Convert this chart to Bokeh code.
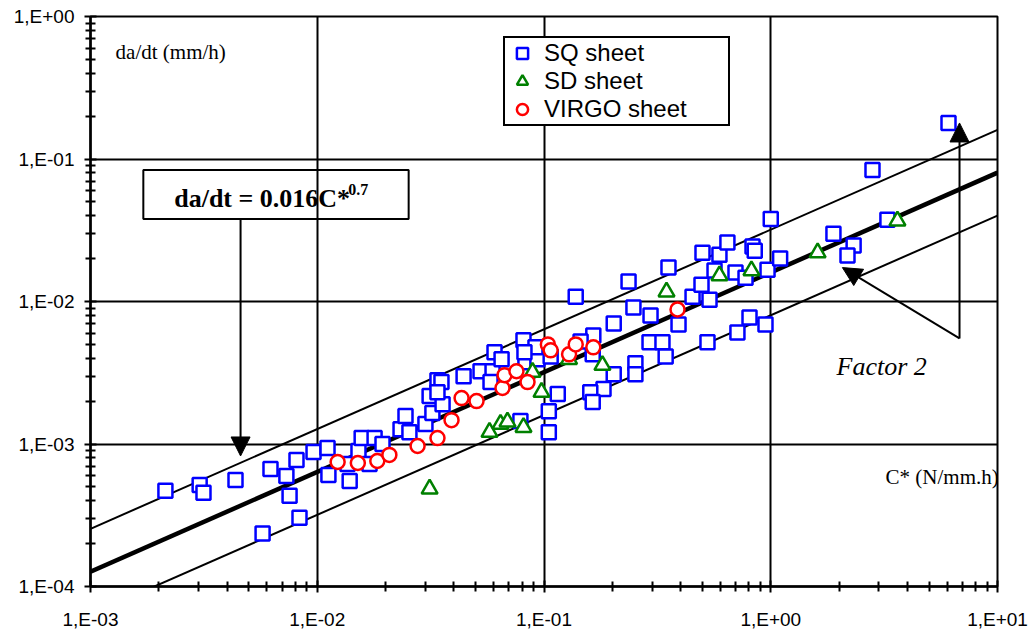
from bokeh.plotting import figure
from bokeh.models import (Range1d, Legend, LegendItem, Label, Arrow, NormalHead,
                          CustomJSTickFormatter, BoxAnnotation, FixedTicker)
from bokeh.embed import file_html
from bokeh.resources import INLINE

# ---------------- data ----------------
sq_x = [2.14e-3, 3.03e-3, 3.15e-3, 4.36e-3, 5.74e-3, 6.22e-3, 7.31e-3, 7.55e-3, 8.10e-3, 8.35e-3,
        9.63e-3, 1.11e-2, 1.12e-2, 1.36e-2, 1.39e-2, 1.52e-2, 1.57e-2, 1.79e-2, 1.70e-2, 1.94e-2,
        2.33e-2, 2.45e-2, 2.55e-2, 3.00e-2, 3.13e-2, 3.22e-2, 3.39e-2, 3.53e-2, 3.57e-2, 3.39e-2,
        4.42e-2, 5.25e-2, 5.93e-2, 5.81e-2, 6.05e-2, 6.50e-2, 8.12e-2, 8.28e-2, 9.35e-2, 9.17e-2,
        7.87e-2, 0.105, 0.105, 0.107, 0.115, 0.138, 0.165, 0.164, 0.203, 0.236,
        0.248, 0.295, 0.292, 0.333, 0.344, 0.253, 0.253, 0.203, 0.183, 0.160,
        0.164, 0.354, 0.392, 0.452, 0.495, 0.537, 0.500, 0.594, 0.644, 0.565,
        0.699, 0.774, 0.831, 0.85, 0.968, 1.00, 1.10, 0.526, 0.713, 0.806,
        0.948, 1.89, 2.32, 2.18, 3.27, 2.81, 6.08, 8.20e-2, 0.145]
sq_y = [4.69e-4, 5.16e-4, 4.54e-4, 5.60e-4, 2.35e-4, 6.68e-4, 5.97e-4, 4.33e-4, 7.73e-4, 3.04e-4,
        8.79e-4, 9.38e-4, 6.07e-4, 7.24e-4, 5.51e-4, 8.93e-4, 1.10e-3, 1.10e-3, 7.24e-4, 1.00e-3,
        1.27e-3, 1.57e-3, 1.21e-3, 1.38e-3, 2.17e-3, 1.65e-3, 2.80e-3, 2.72e-3, 1.90e-3, 2.31e-3,
        2.99e-3, 3.24e-3, 3.24e-3, 2.72e-3, 4.40e-3, 3.93e-3, 5.34e-3, 3.74e-3, 3.93e-3, 4.77e-3,
        1.45e-3, 1.70e-3, 1.21e-3, 4.12e-3, 2.24e-3, 1.08e-2, 5.78e-3, 4.26e-3, 7.02e-3, 1.38e-2,
        9.08e-3, 7.98e-3, 5.17e-3, 5.17e-3, 4.12e-3, 3.68e-3, 3.09e-3, 3.09e-3, 2.43e-3, 2.31e-3,
        1.97e-3, 1.73e-2, 6.90e-3, 1.08e-2, 1.31e-2, 1.03e-2, 2.20e-2, 2.13e-2, 2.59e-2, 1.65e-2,
        1.60e-2, 1.47e-2, 2.43e-2, 2.27e-2, 1.67e-2, 3.80e-2, 2.00e-2, 5.17e-3, 6.07e-3, 7.73e-3,
        6.90e-3, 2.99e-2, 2.47e-2, 2.10e-2, 3.74e-2, 8.38e-2, 0.179, 4.40e-3, 5.25e-3]

sd_x = [3.13e-2, 5.75e-2, 6.43e-2, 6.90e-2, 8.12e-2, 8.90e-2, 9.75e-2, 0.129, 0.181, 0.347,
        0.594, 0.822, 1.61, 3.62]
sd_y = [4.84e-4, 1.21e-3, 1.38e-3, 1.43e-3, 1.31e-3, 3.19e-3, 2.31e-3, 3.93e-3, 3.57e-3, 1.17e-2,
        1.52e-2, 1.65e-2, 2.20e-2, 3.68e-2]

virgo_x = [1.23e-2, 1.51e-2, 1.84e-2, 2.08e-2, 2.77e-2, 3.39e-2, 3.91e-2, 4.33e-2, 5.04e-2, 6.56e-2,
           6.70e-2, 7.56e-2, 8.46e-2, 0.104, 0.107, 0.129, 0.138, 0.165, 0.388]
virgo_y = [7.48e-4, 7.36e-4, 7.60e-4, 8.38e-4, 9.68e-4, 1.10e-3, 1.47e-3, 2.10e-3, 2.00e-3, 2.47e-3,
           3.04e-3, 3.24e-3, 2.72e-3, 5.00e-3, 4.54e-3, 4.26e-3, 5.00e-3, 4.77e-3, 8.79e-3]

# fit da/dt = 0.016 C*^0.7 and factor-2 band, at the ends of the x range
line_x = [1e-3, 1e1]
fit_y = [1.27e-4, 8.02e-2]
upper_y = [2.54e-4, 1.60e-1]
lower_y = [6.35e-5, 4.01e-2]

series_names = ["SQ sheet", "SD sheet", "VIRGO sheet"]

x_decades = [1e-3, 1e-2, 1e-1, 1e0, 1e1]
y_decades = [1e-4, 1e-3, 1e-2, 1e-1, 1e0]
mantissas = [2, 3, 4, 5, 6, 7, 8, 9]

# ---------------- figure ----------------
p = figure(width=1029, height=632, x_axis_type="log", y_axis_type="log",
           x_range=Range1d(1e-3, 1e1), y_range=Range1d(1e-4, 1.0),
           output_backend="svg", toolbar_location=None,
           min_border_left=90, min_border_right=32, min_border_top=16, min_border_bottom=44)
p.background_fill_color = "white"
p.border_fill_color = "white"
p.outline_line_color = "black"
p.outline_line_width = 2
p.outline_line_alpha = 1

p.xaxis.ticker = FixedTicker(ticks=x_decades,
                             minor_ticks=[m * d for d in x_decades[:-1] for m in mantissas])
p.yaxis.ticker = FixedTicker(ticks=y_decades,
                             minor_ticks=[m * d for d in y_decades[:-1] for m in mantissas])

fmt = CustomJSTickFormatter(code="""
const e = Math.round(Math.log10(tick));
const s = e < 0 ? "-" : "+";
const a = Math.abs(e);
return "1,E" + s + (a < 10 ? "0" : "") + a;
""")
for ax in (p.xaxis[0], p.yaxis[0]):
    ax.formatter = fmt
    ax.axis_line_color = "black"
    ax.axis_line_width = 2.5
    ax.major_tick_line_color = "black"
    ax.major_tick_line_width = 2
    ax.major_tick_line_alpha = 1
    ax.minor_tick_line_color = "black"
    ax.minor_tick_line_width = 2
    ax.minor_tick_line_alpha = 1
    ax.major_tick_in = 6
    ax.major_tick_out = 6
    ax.minor_tick_in = 5
    ax.minor_tick_out = 5
    ax.major_label_text_font = "Liberation Sans"
    ax.major_label_text_font_size = "19px"
    ax.major_label_text_color = "black"
p.xaxis.major_label_standoff = 16
p.yaxis.major_label_standoff = 10

for g in (p.xgrid[0], p.ygrid[0]):
    g.grid_line_color = "black"
    g.grid_line_width = 2
    g.grid_line_alpha = 1
    g.minor_grid_line_color = None
p.xgrid.ticker = FixedTicker(ticks=x_decades)
p.ygrid.ticker = FixedTicker(ticks=y_decades)

# lines
p.line(line_x, upper_y, line_color="black", line_width=2)
p.line(line_x, lower_y, line_color="black", line_width=2)
p.line(line_x, fit_y, line_color="black", line_width=4.5)

# markers
r_sq = p.scatter(sq_x, sq_y, marker="square", size=14, line_color="#0000FF",
                 line_width=2.5, fill_color="white")
r_sd = p.scatter(sd_x, sd_y, marker="triangle", size=16, line_color="#008000",
                 line_width=2.5, fill_color="white")
r_vi = p.scatter(virgo_x, virgo_y, marker="circle", size=14, line_color="#FF0000",
                 line_width=2.5, fill_color="white")

legend = Legend(items=[LegendItem(label=series_names[0], renderers=[r_sq]),
                       LegendItem(label=series_names[1], renderers=[r_sd]),
                       LegendItem(label=series_names[2], renderers=[r_vi])],
                location=(413, 460))
legend.label_text_font = "Liberation Sans"
legend.label_text_font_size = "24px"
legend.label_text_color = "black"
legend.label_height = 26
legend.glyph_height = 28
legend.glyph_width = 32
legend.label_width = 183
legend.label_standoff = 6
legend.spacing = 0
legend.padding = 1
legend.margin = 0
legend.border_line_color = "black"
legend.border_line_width = 2
legend.border_line_alpha = 1
legend.background_fill_color = "white"
legend.background_fill_alpha = 1
p.add_layout(legend, "center")

# equation box and text
p.add_layout(BoxAnnotation(left=1.71e-3, right=2.53e-2, bottom=0.0380, top=0.0838,
                           fill_color=None, fill_alpha=0, line_color="black",
                           line_alpha=1, line_width=2))
p.add_layout(Label(x=2.34e-3, y=0.0525, text="da/dt = 0.016C*", text_font="Liberation Serif",
                   text_font_style="bold", text_font_size="26px", text_baseline="alphabetic",
                   text_align="left", text_color="black"))
p.add_layout(Label(x=1.37e-2, y=0.0612, text="0.7", text_font="Liberation Serif",
                   text_font_style="bold", text_font_size="16px", text_baseline="alphabetic",
                   text_align="left", text_color="black"))

# arrows
p.add_layout(Arrow(x_start=4.59e-3, y_start=0.0380, x_end=4.59e-3, y_end=8.24e-4,
                   line_color="black", line_width=2,
                   end=NormalHead(size=19, fill_color="black", line_color="black")))
p.add_layout(Arrow(x_start=6.80, y_start=5.51e-3, x_end=6.80, y_end=0.179,
                   line_color="black", line_width=2,
                   end=NormalHead(size=19, fill_color="black", line_color="black")))
p.add_layout(Arrow(x_start=6.80, y_start=5.51e-3, x_end=2.07, y_end=0.0173,
                   line_color="black", line_width=2,
                   end=NormalHead(size=19, fill_color="black", line_color="black")))

# text labels
p.add_layout(Label(x=1.29e-3, y=0.560, text="da/dt (mm/h)", text_font="Liberation Serif",
                   text_font_size="21px", text_baseline="middle", text_align="left",
                   text_color="black"))
p.add_layout(Label(x=3.21, y=5.88e-4, text="C* (N/mm.h)", text_font="Liberation Serif",
                   text_font_size="21px", text_baseline="middle", text_align="left",
                   text_color="black"))
p.add_layout(Label(x=1.95, y=3.51e-3, text="Factor 2", text_font="Liberation Serif",
                   text_font_style="italic", text_font_size="26px", text_baseline="middle",
                   text_align="left", text_color="black"))

open("out.html", "w").write(file_html(p, INLINE))
